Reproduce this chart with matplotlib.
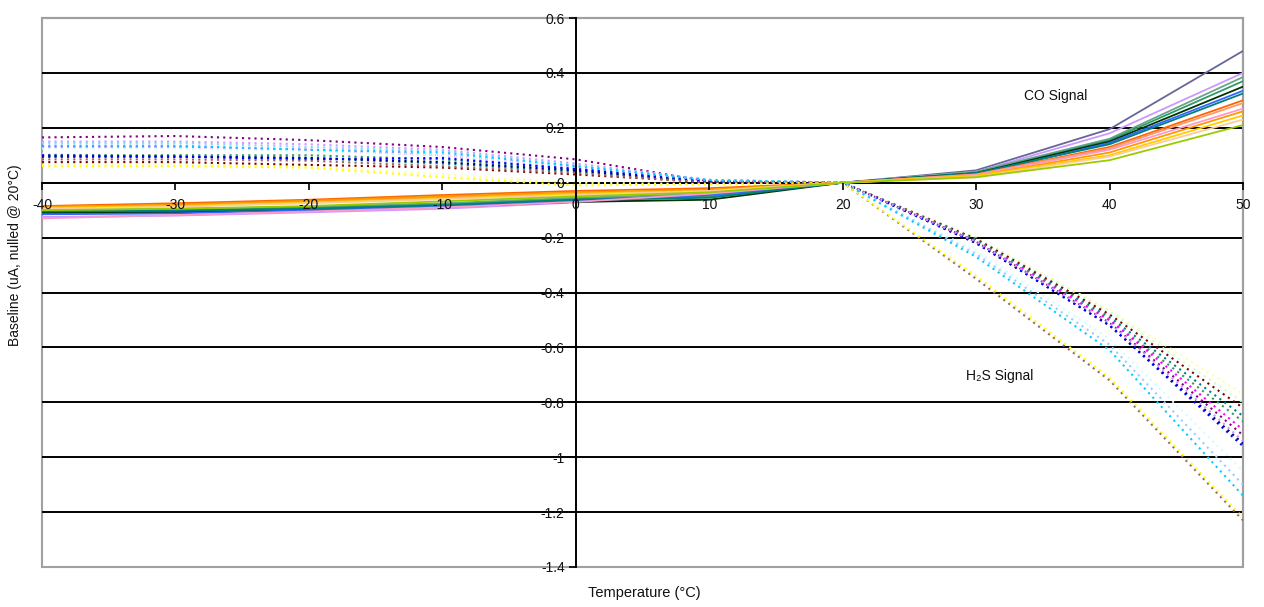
import matplotlib
matplotlib.use("Agg")
import matplotlib.pyplot as plt
from matplotlib.patches import Rectangle

plt.rcParams['font.family'] = ['Liberation Sans', 'DejaVu Sans']

# ---------------- data ----------------
temperature = [-40, -30, -20, -10, 0, 10, 20, 30, 40, 50]

co_colors = ['#666699', '#CC99FF', '#66A68A', '#339966', '#003300', '#3366FF', '#008080',
             '#FF6600', '#FF9966', '#FF99CC', '#FF9900', '#FFCC00', '#FFCC99', '#99CC00']
co_values = [
    [-0.110, -0.105, -0.095, -0.080, -0.060, -0.045, 0, 0.045, 0.195, 0.48],
    [-0.125, -0.120, -0.108, -0.095, -0.072, -0.050, 0, 0.040, 0.180, 0.40],
    [-0.100, -0.095, -0.088, -0.075, -0.055, -0.040, 0, 0.040, 0.160, 0.385],
    [-0.105, -0.100, -0.092, -0.080, -0.060, -0.050, 0, 0.035, 0.155, 0.37],
    [-0.110, -0.108, -0.100, -0.088, -0.070, -0.062, 0, 0.035, 0.150, 0.35],
    [-0.115, -0.112, -0.100, -0.085, -0.065, -0.045, 0, 0.030, 0.145, 0.335],
    [-0.105, -0.102, -0.095, -0.082, -0.062, -0.055, 0, 0.035, 0.140, 0.325],
    [-0.085, -0.075, -0.062, -0.045, -0.030, -0.020, 0, 0.030, 0.130, 0.30],
    [-0.090, -0.082, -0.070, -0.055, -0.040, -0.028, 0, 0.030, 0.125, 0.29],
    [-0.130, -0.118, -0.105, -0.090, -0.070, -0.040, 0, 0.028, 0.120, 0.27],
    [-0.088, -0.080, -0.066, -0.050, -0.035, -0.025, 0, 0.025, 0.110, 0.26],
    [-0.092, -0.085, -0.072, -0.058, -0.040, -0.030, 0, 0.025, 0.100, 0.245],
    [-0.095, -0.088, -0.075, -0.060, -0.045, -0.030, 0, 0.020, 0.095, 0.23],
    [-0.100, -0.095, -0.085, -0.068, -0.050, -0.035, 0, 0.020, 0.082, 0.21],
]

h2s_colors = ['#FFFF99', '#CCFFCC', '#800000', '#008080', '#339966', '#FF00FF', '#800080',
              '#000080', '#0000FF', '#CC99FF', '#CCFFFF', '#99CCFF', '#00CCFF', '#996666', '#FFFF00']
h2s_values = [
    [0.065, 0.065, 0.060, 0.030, 0.000, -0.005, 0, -0.200, -0.465, -0.77],
    [0.105, 0.100, 0.095, 0.080, 0.045, 0.005, 0, -0.200, -0.470, -0.80],
    [0.075, 0.075, 0.065, 0.055, 0.030, 0.002, 0, -0.205, -0.480, -0.82],
    [0.095, 0.095, 0.090, 0.070, 0.040, 0.005, 0, -0.210, -0.490, -0.85],
    [0.100, 0.100, 0.100, 0.085, 0.050, 0.008, 0, -0.210, -0.500, -0.87],
    [0.130, 0.130, 0.120, 0.100, 0.060, 0.010, 0, -0.215, -0.500, -0.90],
    [0.165, 0.170, 0.155, 0.130, 0.085, 0.005, 0, -0.215, -0.510, -0.92],
    [0.095, 0.095, 0.090, 0.075, 0.045, 0.000, 0, -0.220, -0.520, -0.95],
    [0.100, 0.095, 0.085, 0.090, 0.050, 0.005, 0, -0.220, -0.520, -0.96],
    [0.150, 0.150, 0.140, 0.120, 0.070, 0.010, 0, -0.215, -0.510, -0.94],
    [0.125, 0.125, 0.115, 0.100, 0.060, 0.010, 0, -0.250, -0.570, -1.05],
    [0.145, 0.145, 0.130, 0.115, 0.065, 0.010, 0, -0.260, -0.590, -1.10],
    [0.135, 0.135, 0.120, 0.110, 0.060, 0.010, 0, -0.270, -0.610, -1.14],
    [0.085, 0.085, 0.080, 0.060, 0.035, 0.000, 0, -0.350, -0.720, -1.23],
    [0.060, 0.060, 0.055, 0.020, -0.010, -0.005, 0, -0.340, -0.710, -1.22],
]

x_ticks = [-40, -30, -20, -10, 0, 10, 20, 30, 40, 50]
y_ticks = [0.6, 0.4, 0.2, 0, -0.2, -0.4, -0.6, -0.8, -1, -1.2, -1.4]
y_tick_labels = ['0.6', '0.4', '0.2', '0', '-0.2', '-0.4', '-0.6', '-0.8', '-1', '-1.2', '-1.4']
grid_levels = [0.4, 0.2, 0, -0.2, -0.4, -0.6, -0.8, -1.0, -1.2]

# ---------------- figure ----------------
W, H = 1264, 607
fig = plt.figure(figsize=(W / 100, H / 100), dpi=100)
L, R, T, B = 42, 1243, 18, 567
ax = fig.add_axes([L / W, 1 - B / H, (R - L) / W, (B - T) / H])

ax.set_xlim(-40, 50)
ax.set_ylim(-1.4, 0.6)

for g in grid_levels:
    ax.axhline(g, color='black', lw=1.4, zorder=1)

for vals, c in zip(h2s_values, h2s_colors):
    ax.plot(temperature, vals, color=c, lw=1.5, linestyle=(0, (1, 2.0)), zorder=3)

for vals, c in zip(co_values, co_colors):
    ax.plot(temperature, vals, color=c, lw=1.3, zorder=4)

# spines: axes crossing at origin, gray frame around
for s in ['top', 'right']:
    ax.spines[s].set_color('#A0A0A0')
    ax.spines[s].set_linewidth(1.5)
ax.spines['left'].set_position(('data', 0))
ax.spines['bottom'].set_position(('data', 0))
ax.spines['left'].set_color('black')
ax.spines['bottom'].set_color('black')
ax.spines['left'].set_linewidth(1.4)
ax.spines['bottom'].set_linewidth(1.4)
ax.spines['left'].set_zorder(5)
frame = Rectangle((0, 0), 1, 1, transform=ax.transAxes, fill=False,
                  edgecolor='#A0A0A0', lw=1.5, zorder=0.5, clip_on=False)
ax.add_patch(frame)

ax.set_xticks(x_ticks)
ax.set_xticklabels([str(v) for v in x_ticks])
ax.set_yticks(y_ticks)
ax.set_yticklabels(y_tick_labels)
ax.tick_params(axis='both', direction='out', length=5, width=1.2, color='black',
               labelsize=10, labelcolor='#111111')
ax.tick_params(axis='x', pad=6)
ax.tick_params(axis='y', pad=3)
ax.xaxis.set_zorder(10)
ax.yaxis.set_zorder(10)

ax.text(36.0, 0.315, 'CO Signal', fontsize=10, ha='center', va='center', color='#111111')
ax.text(31.8, -0.705, 'H\u2082S Signal', fontsize=10, ha='center', va='center', color='#111111')

fig.text(644 / W, 1 - 593 / H, 'Temperature (\u00b0C)', fontsize=10.5, ha='center', va='center',
         color='#111111')
fig.text(15 / W, 1 - 255 / H, 'Baseline (uA, nulled @ 20\u00b0C)', fontsize=10, rotation=90,
         ha='center', va='center', color='#111111')

fig.savefig('out.png', dpi=100, facecolor='white')
